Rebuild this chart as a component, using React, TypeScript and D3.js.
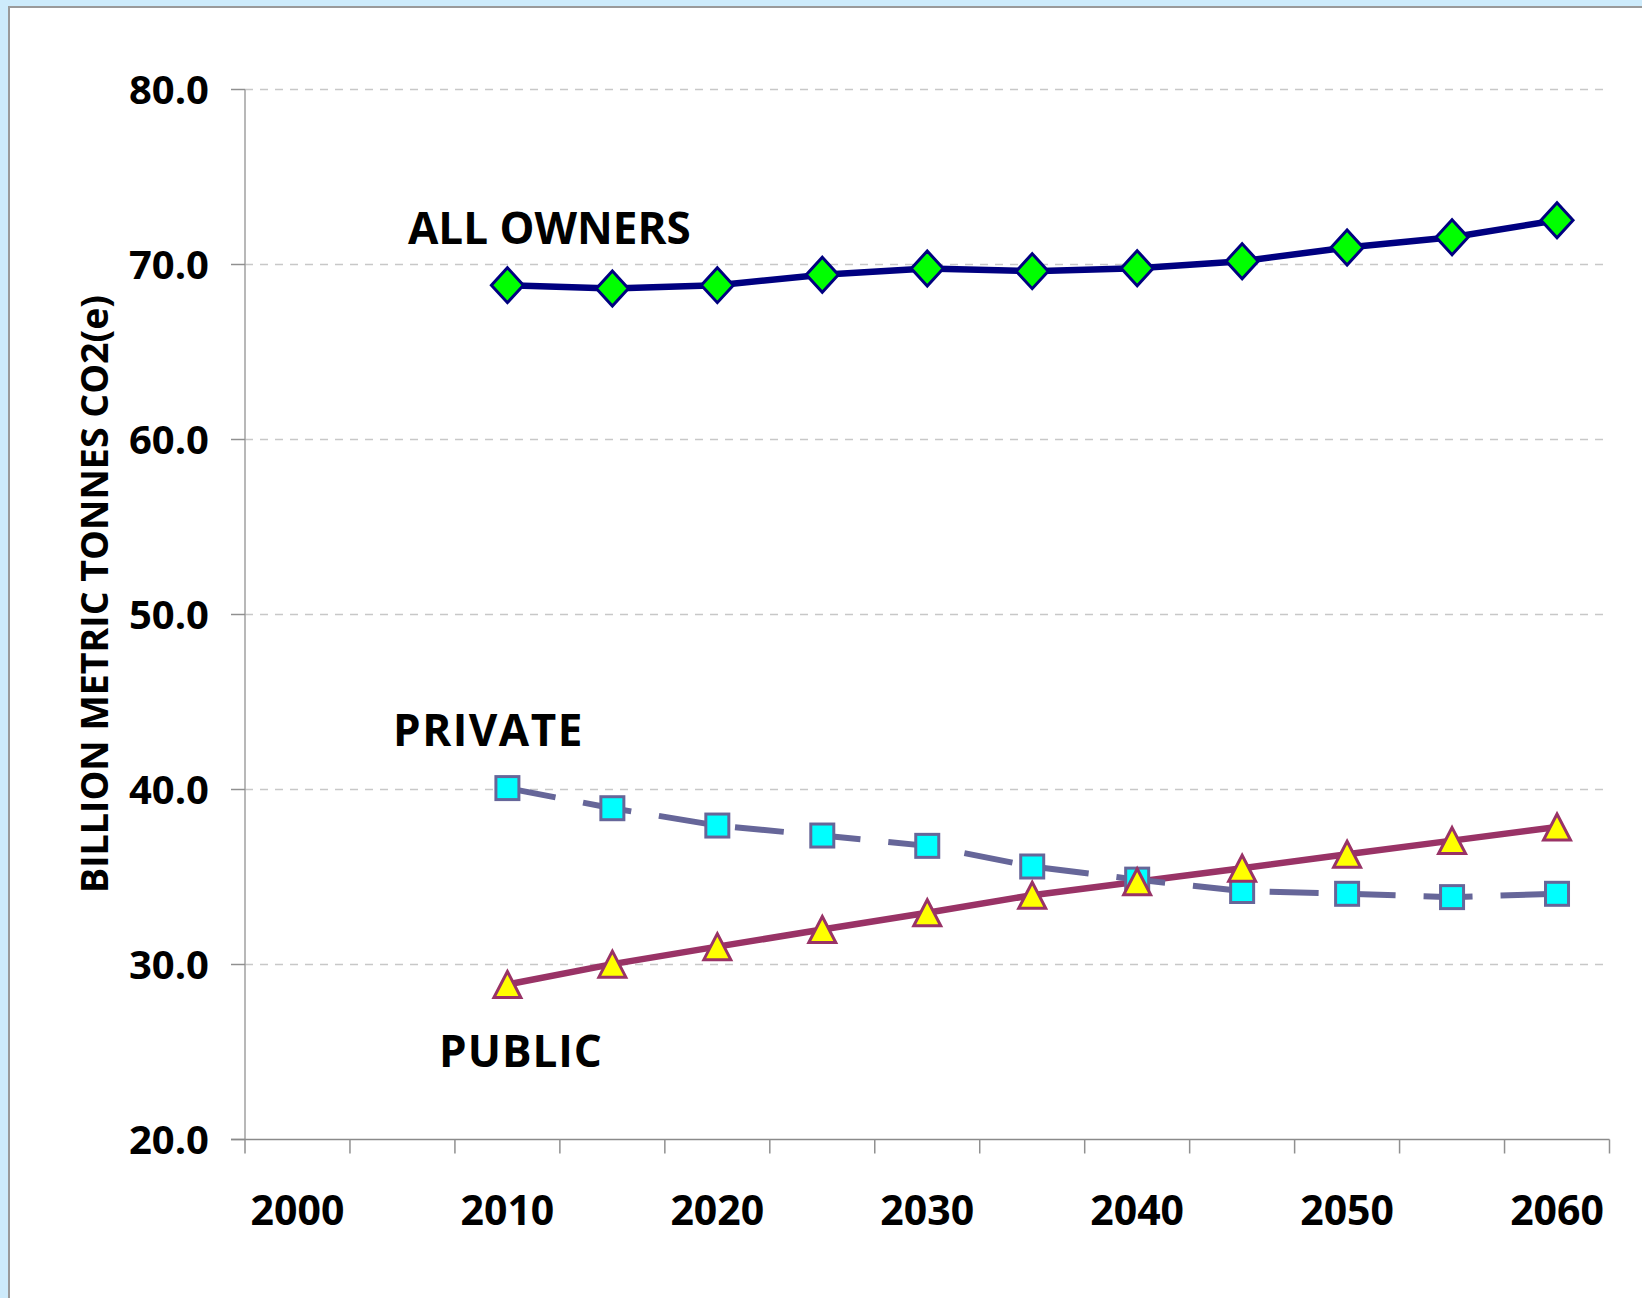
import React from "react";
import * as d3 from "d3";

const categories = ["2000","2005","2010","2015","2020","2025","2030","2035","2040","2045","2050","2055","2060"];
const xTickLabels = ["2000","2010","2020","2030","2040","2050","2060"];
const dataYears = ["2010","2015","2020","2025","2030","2035","2040","2045","2050","2055","2060"];
const allOwners = [68.82, 68.63, 68.82, 69.41, 69.77, 69.62, 69.79, 70.19, 70.97, 71.56, 72.53];
const privateVals = [40.08, 38.93, 37.94, 37.37, 36.78, 35.6, 34.85, 34.2, 34.04, 33.85, 34.04];
const publicVals = [28.86, 30.02, 31.02, 32.0, 32.96, 33.96, 34.73, 35.5, 36.3, 37.08, 37.86];
const yTicks = [20, 30, 40, 50, 60, 70, 80];
const seriesNames = ["ALL OWNERS", "PRIVATE", "PUBLIC"];
const yTitle = "BILLION METRIC TONNES CO2(e)";

const W = 1642, H = 1298;
const FONT = "'Open Sans', 'Noto Sans', sans-serif";

export default function App() {
  const x = d3.scaleBand().domain(categories).range([245, 1609.5]).paddingInner(0).paddingOuter(0);
  const y = d3.scaleLinear().domain([20, 80]).range([1139.5, 89.5]);
  const cx = (c: string) => (x(c) as number) + x.bandwidth() / 2;
  const line = d3.line<number>().x((_, i) => cx(dataYears[i])).y((v) => y(v));

  const boundaries = categories.map((c) => x(c) as number).concat([x.range()[1]]);

  const diamond = (px: number, py: number) => {
    const hw = 16, hh = 17.5;
    return `M${px},${py - hh}L${px + hw},${py}L${px},${py + hh}L${px - hw},${py}Z`;
  };
  const tri = (px: number, py: number) => {
    const hw = 13.5, hh = 13;
    return `M${px},${py - hh}L${px + hw},${py + hh}L${px - hw},${py + hh}Z`;
  };

  return (
    <svg width={W} height={H} style={{ position: "absolute", left: 0, top: 0, display: "block" }}>
      <rect x={0} y={0} width={W} height={H} fill="#cdebfb" />
      <rect x={9} y={7} width={W} height={H} fill="#ffffff" stroke="#9a9a9a" strokeWidth={2} />

      {/* gridlines */}
      {yTicks.filter((t) => t !== 20).map((t) => (
        <line key={"g" + t} x1={245} x2={1605} y1={y(t)} y2={y(t)} stroke="#c8c8c8" strokeWidth={1.5} strokeDasharray="8,7" />
      ))}

      {/* axes */}
      <line x1={245} x2={245} y1={y(80)} y2={y(20)} stroke="#a0a0a0" strokeWidth={1.5} />
      {yTicks.map((t) => (
        <line key={"yt" + t} x1={231} x2={245} y1={y(t)} y2={y(t)} stroke="#909090" strokeWidth={1.5} />
      ))}
      <line x1={231} x2={1609.5} y1={y(20)} y2={y(20)} stroke="#8a8a8a" strokeWidth={1.5} />
      {boundaries.map((b, i) => (
        <line key={"xt" + i} x1={b} x2={b} y1={y(20)} y2={y(20) + 14} stroke="#909090" strokeWidth={1.5} />
      ))}

      {/* y tick labels */}
      {yTicks.map((t) => (
        <text key={"yl" + t} x={209} y={y(t)} dy="0.37em" textAnchor="end" fontFamily={FONT} fontWeight={700} fontSize={40} fill="#000">
          {t.toFixed(1)}
        </text>
      ))}
      {/* x tick labels */}
      {xTickLabels.map((c) => (
        <text key={"xl" + c} x={cx(c)} y={1210} dy="0.36em" textAnchor="middle" fontFamily={FONT} fontWeight={700} fontSize={41} fill="#000">
          {c}
        </text>
      ))}

      {/* y title */}
      <text transform={`translate(94,594) rotate(-90)`} dy="0.36em" textAnchor="middle" fontFamily={FONT} fontWeight={700} fontSize={37.5} fill="#000">
        {yTitle}
      </text>

      {/* lines */}
      <path d={line(publicVals) || ""} fill="none" stroke="#993366" strokeWidth={6.5} strokeLinejoin="round" />
      <path d={line(privateVals) || ""} fill="none" stroke="#666699" strokeWidth={6} strokeDasharray="49,28" />
      <path d={line(allOwners) || ""} fill="none" stroke="#000080" strokeWidth={6.5} strokeLinejoin="round" />

      {/* markers */}
      {privateVals.map((v, i) => (
        <rect key={"sq" + i} x={cx(dataYears[i]) - 11.5} y={y(v) - 11.5} width={23} height={23} fill="#00ffff" stroke="#666699" strokeWidth={3} />
      ))}
      {publicVals.map((v, i) => (
        <path key={"tr" + i} d={tri(cx(dataYears[i]), y(v))} fill="#ffff00" stroke="#993366" strokeWidth={3} strokeLinejoin="miter" />
      ))}
      {allOwners.map((v, i) => (
        <path key={"dm" + i} d={diamond(cx(dataYears[i]), y(v))} fill="#00ff00" stroke="#000080" strokeWidth={3} />
      ))}

      {/* series labels */}
      <text x={408} y={244} fontFamily={FONT} fontWeight={700} fontSize={44} fill="#000">{seriesNames[0]}</text>
      <text x={393} y={746} fontFamily={FONT} fontWeight={700} fontSize={44} letterSpacing={1.5} fill="#000">{seriesNames[1]}</text>
      <text x={439} y={1067} fontFamily={FONT} fontWeight={700} fontSize={44} letterSpacing={1} fill="#000">{seriesNames[2]}</text>
    </svg>
  );
}
